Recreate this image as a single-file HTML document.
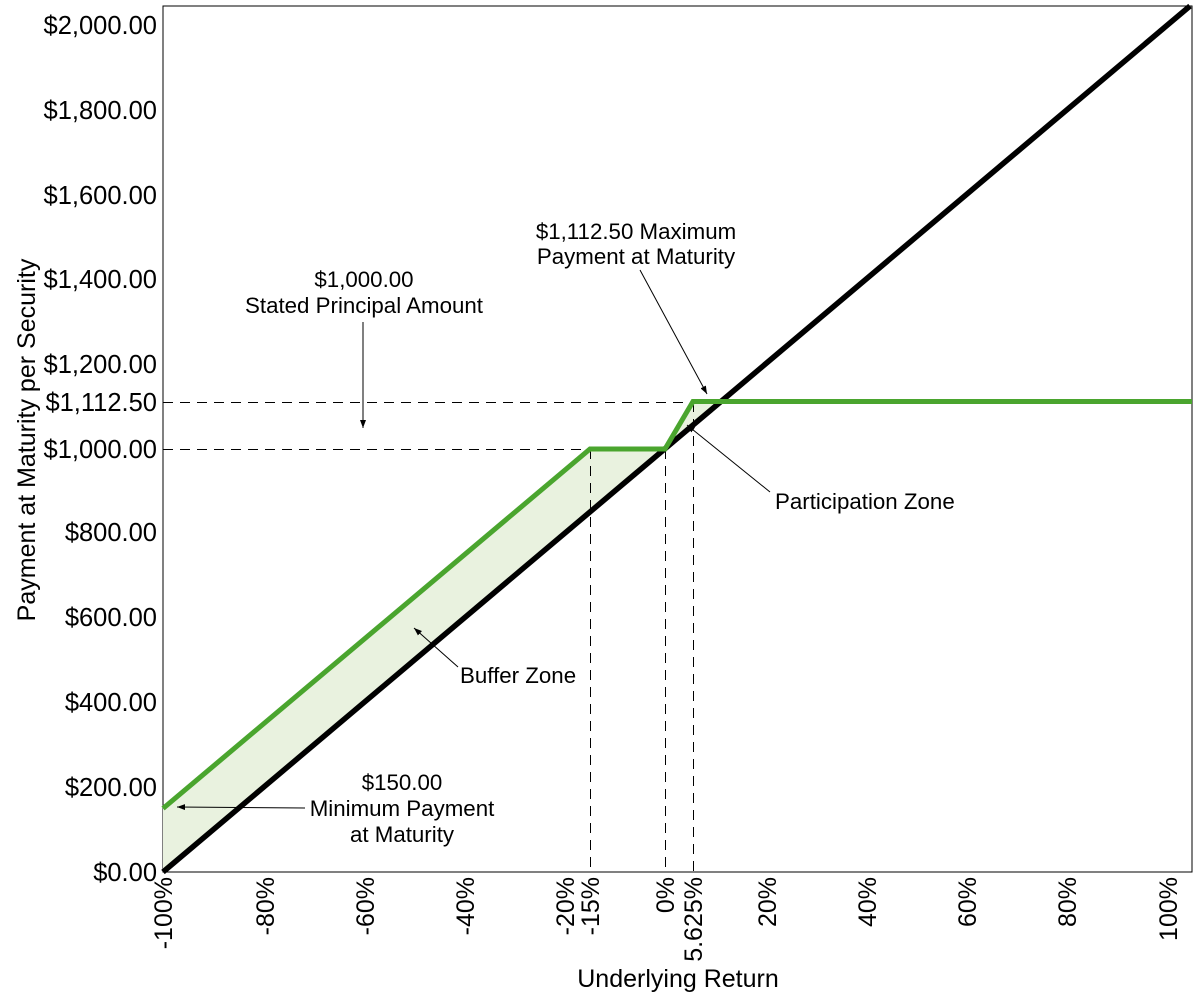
<!DOCTYPE html>
<html><head><style>body{margin:0;background:#fff}svg{display:block}text{font-family:"Liberation Sans",Arial,sans-serif;fill:#000}</style></head>
<body>
<svg width="1200" height="1000" xmlns="http://www.w3.org/2000/svg">
<defs><marker id="a" markerWidth="8" markerHeight="6" refX="8" refY="3" orient="auto" markerUnits="userSpaceOnUse"><path d="M0,0 L8,3 L0,6 z" fill="#000"/></marker></defs>
<rect x="163" y="6" width="1029" height="866" fill="none" stroke="#000" stroke-width="1"/>
<polygon points="163,808.5 590,449 665,449 693,401 721,401 665,449 163,872" fill="#e9f2df"/>
<g stroke="#000" stroke-width="1" stroke-dasharray="10,7" fill="none" shape-rendering="crispEdges">
<line x1="163" y1="402.5" x2="693" y2="402.5"/>
<line x1="163" y1="449.5" x2="665" y2="449.5"/>
<line x1="590.5" y1="449" x2="590.5" y2="872"/>
<line x1="665.5" y1="449" x2="665.5" y2="872"/>
<line x1="693.5" y1="402" x2="693.5" y2="872"/>
</g>
<line x1="163" y1="872" x2="1190" y2="6" stroke="#000" stroke-width="5.5"/>
<polyline points="163,808.5 590,449 665,449 693,401.5 1192,401.5" fill="none" stroke="#4aa52e" stroke-width="5" stroke-linejoin="miter"/>
<g font-size="25.5" text-anchor="end">
<text x="157" y="881">$0.00</text>
<text x="157" y="796">$200.00</text>
<text x="157" y="711">$400.00</text>
<text x="157" y="626">$600.00</text>
<text x="157" y="541">$800.00</text>
<text x="157" y="458">$1,000.00</text>
<text x="157" y="411">$1,112.50</text>
<text x="157" y="373">$1,200.00</text>
<text x="157" y="288">$1,400.00</text>
<text x="157" y="204">$1,600.00</text>
<text x="157" y="119">$1,800.00</text>
<text x="157" y="34">$2,000.00</text>
</g>
<g font-size="25" text-anchor="end">
<text transform="translate(172,877) rotate(-90)">-100%</text>
<text transform="translate(274,877) rotate(-90)">-80%</text>
<text transform="translate(374,877) rotate(-90)">-60%</text>
<text transform="translate(474,877) rotate(-90)">-40%</text>
<text transform="translate(574,877) rotate(-90)">-20%</text>
<text transform="translate(599,877) rotate(-90)">-15%</text>
<text transform="translate(674,877) rotate(-90)">0%</text>
<text transform="translate(702,877) rotate(-90)">5.625%</text>
<text transform="translate(776,877) rotate(-90)">20%</text>
<text transform="translate(876,877) rotate(-90)">40%</text>
<text transform="translate(976,877) rotate(-90)">60%</text>
<text transform="translate(1076,877) rotate(-90)">80%</text>
<text transform="translate(1177,877) rotate(-90)">100%</text>
</g>
<text x="678" y="987" font-size="25" text-anchor="middle">Underlying Return</text>
<text transform="translate(35,440) rotate(-90)" font-size="25" text-anchor="middle">Payment at Maturity per Security</text>
<g font-size="22.3" text-anchor="middle">
<text x="364" y="287">$1,000.00</text>
<text x="364" y="313">Stated Principal Amount</text>
<text x="636" y="239">$1,112.50 Maximum</text>
<text x="636" y="264">Payment at Maturity</text>
<text x="402" y="790">$150.00</text>
<text x="402" y="816">Minimum Payment</text>
<text x="402" y="842">at Maturity</text>
</g>
<text x="775" y="509" font-size="22.3">Participation Zone</text>
<text x="460" y="683" font-size="22.3">Buffer Zone</text>
<g stroke="#000" stroke-width="1" marker-end="url(#a)">
<line x1="363" y1="322" x2="363" y2="428"/>
<line x1="640" y1="270" x2="707" y2="394"/>
<line x1="770" y1="492" x2="687" y2="425"/>
<line x1="458" y1="667" x2="414" y2="628"/>
<line x1="305" y1="808" x2="177" y2="807"/>
</g>
</svg>
</body></html>
